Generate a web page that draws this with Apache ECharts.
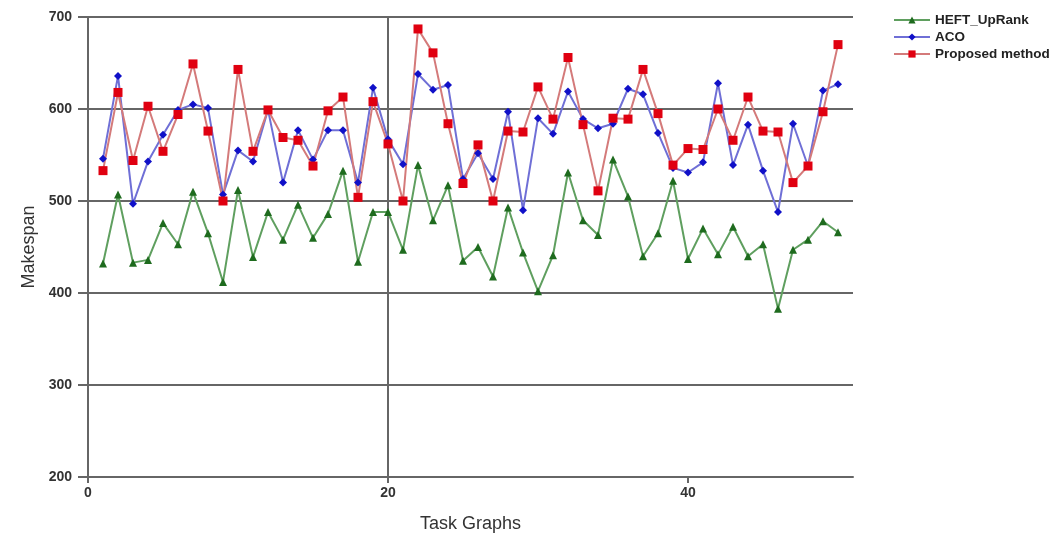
<!DOCTYPE html>
<html>
<head>
<meta charset="utf-8">
<script src="https://cdn.jsdelivr.net/npm/echarts@6/dist/echarts.min.js"></script>
<style>html,body{margin:0;padding:0;background:#fff;}#c{width:1060px;height:540px;}</style>
</head>
<body>
<div id="c"></div>
<script>
const taskIds = [1,2,3,4,5,6,7,8,9,10,11,12,13,14,15,16,17,18,19,20,21,22,23,24,25,26,27,28,29,30,31,32,33,34,35,36,37,38,39,40,41,42,43,44,45,46,47,48,49,50];
const heftUpRank = [432,507,433,436,476,453,510,465,412,512,439,488,458,496,460,486,533,434,488,488,447,539,479,517,435,450,418,493,444,402,441,531,479,463,545,505,440,465,522,437,470,442,472,440,453,383,447,458,478,466];
const aco = [546,636,497,543,572,599,605,601,507,555,543,599,520,577,545,577,577,520,623,567,540,638,621,626,524,552,524,597,490,590,573,619,589,579,584,622,616,574,536,531,542,628,539,583,533,488,584,538,620,627];
const proposed = [533,618,544,603,554,594,649,576,500,643,554,599,569,566,538,598,613,504,608,562,500,687,661,584,519,561,500,576,575,624,589,656,583,511,590,589,643,595,539,557,556,600,566,613,576,575,520,538,597,670];
const yTicks = {min: 200, max: 700, interval: 100};
const xTicks = {min: 0, max: 51, interval: 20};
const xTickValues = [0, 20, 40];

const pair = arr => arr.map((v, i) => [taskIds[i], v]);
const chart = echarts.init(document.getElementById('c'), null, {renderer: 'canvas'});
const font = 'Liberation Sans, Arial, sans-serif';
chart.setOption({
  animation: false,
  backgroundColor: '#ffffff',
  grid: {left: 88, right: 207, top: 17, bottom: 63},
  legend: {
    orient: 'vertical', left: 888, top: 8, itemGap: 3, itemWidth: 36, itemHeight: 9,
    textStyle: {fontFamily: font, fontWeight: 'bold', fontSize: 13.5, color: '#222'},
    data: ['HEFT_UpRank', 'ACO', 'Proposed method']
  },
  xAxis: {
    type: 'value', min: xTicks.min, max: xTicks.max, interval: xTicks.interval,
    name: 'Task Graphs', nameLocation: 'middle', nameGap: 38,
    nameTextStyle: {fontFamily: font, fontSize: 18, color: '#333'},
    axisLine: {show: true, lineStyle: {color: '#666', width: 2}},
    axisTick: {show: true, length: 6, customValues: xTickValues, lineStyle: {color: '#666', width: 2}},
    axisLabel: {fontFamily: font, fontWeight: 'bold', fontSize: 14, color: '#333', margin: 9,
      customValues: xTickValues},
    splitLine: {show: true, showMinLine: false, showMaxLine: false, lineStyle: {color: '#666', width: 2}}
  },
  yAxis: {
    type: 'value', min: yTicks.min, max: yTicks.max, interval: yTicks.interval,
    name: 'Makespan', nameLocation: 'middle', nameGap: 50, nameRotate: 90,
    nameTextStyle: {fontFamily: font, fontSize: 18, color: '#333'},
    axisLine: {show: true, lineStyle: {color: '#666', width: 2}},
    axisTick: {show: true, length: 10, lineStyle: {color: '#666', width: 2}},
    axisLabel: {fontFamily: font, fontWeight: 'bold', fontSize: 14, color: '#333', margin: 16},
    splitLine: {show: true, lineStyle: {color: '#666', width: 2}}
  },
  series: [
    {name: 'HEFT_UpRank', type: 'line', data: pair(heftUpRank), symbol: 'triangle', symbolSize: 8,
      lineStyle: {color: '#5f9f5f', width: 2}, itemStyle: {color: '#1e6b1e'}},
    {name: 'ACO', type: 'line', data: pair(aco), symbol: 'diamond', symbolSize: 8,
      lineStyle: {color: '#6f6fd6', width: 2}, itemStyle: {color: '#1010c8'}},
    {name: 'Proposed method', type: 'line', data: pair(proposed), symbol: 'rect', symbolSize: 9,
      lineStyle: {color: '#d47a7a', width: 2}, itemStyle: {color: '#e00010'}}
  ]
});
</script>
</body>
</html>
